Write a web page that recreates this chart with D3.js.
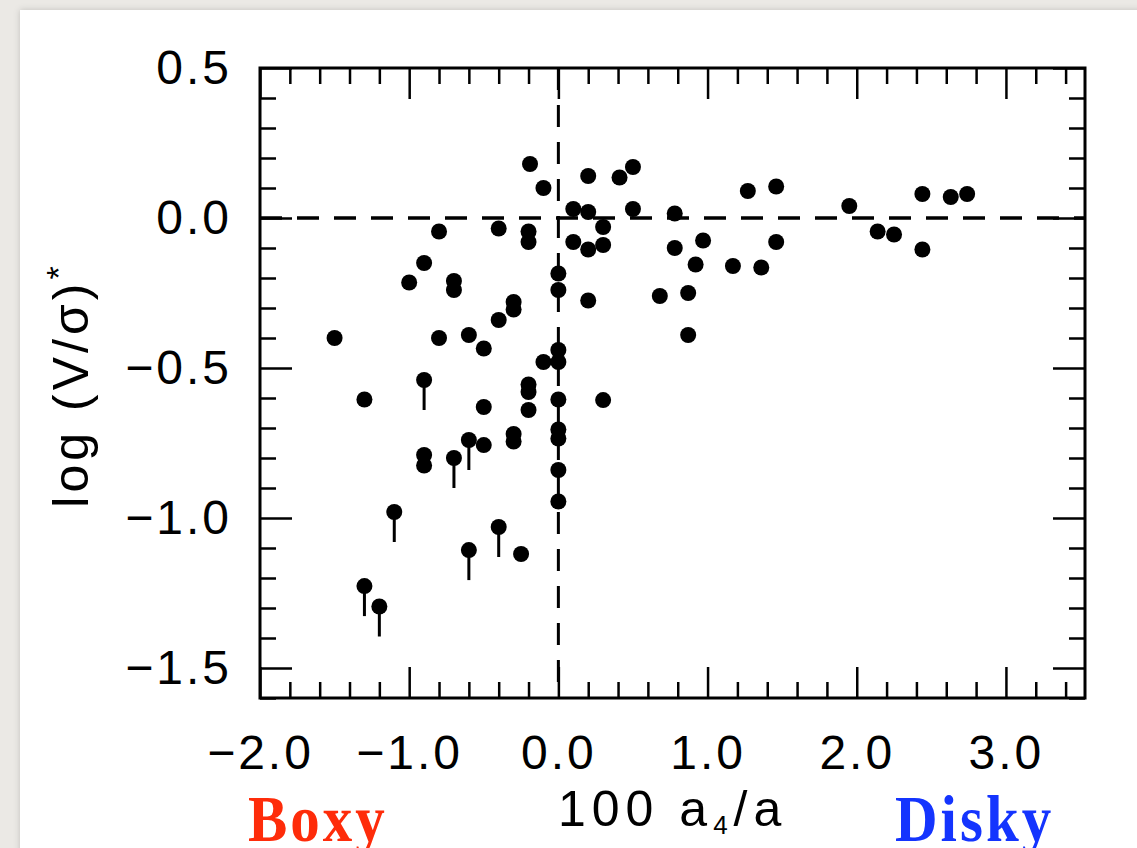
<!DOCTYPE html>
<html>
<head>
<meta charset="utf-8">
<script src="https://cdn.jsdelivr.net/npm/d3@7"></script>
<style>
  body { margin: 0; background: #ebe9e5; }
  svg { display: block; }
  .tick text { font-family: "Liberation Sans", Arial, sans-serif; font-size: 48px; letter-spacing: 3px; fill: #000; }
  .tick line { stroke: #000; stroke-width: 2.5; }
</style>
</head>
<body>
<svg></svg>
<script>
// chart data: 100 a4/a against log(V/sigma)*
const a4 = [
  -0.19, -0.10, 0.20, 0.41, 0.50, 0.10, 0.20, 0.50, 0.78, 0.30,
  -0.80, -0.40, -0.20, -0.20, 0.10, 0.20, 0.30, 0.78, 0.97, 0.92,
  1.17, 1.36, 1.46, 1.27, 1.46, 1.95, 2.14, 2.25, 2.44, 2.44,
  2.63, 2.74, 0.68, 0.87, 0.87, 0.20, -0.90, -1.00, -0.70, -0.70,
  0.00, 0.00, -0.30, -0.30, -0.40, -1.50, -0.80, -0.60, -0.50, -0.10,
  0.00, 0.00, -0.90, -0.20, -0.20, -0.20, 0.00, 0.30, -1.30, -0.50,
  -0.30, -0.30, 0.00, 0.00, -0.60, -0.50, -0.90, -0.90, -0.70, 0.00,
  0.00, -1.10, -0.40, -0.60, -0.25, -1.30, -1.20
];
const logVs = [
  0.18, 0.10, 0.14, 0.135, 0.17, 0.03, 0.02, 0.03, 0.015, -0.03,
  -0.045, -0.035, -0.045, -0.08, -0.08, -0.105, -0.09, -0.10, -0.075, -0.155,
  -0.16, -0.165, -0.08, 0.09, 0.105, 0.04, -0.045, -0.055, 0.08, -0.105,
  0.07, 0.08, -0.26, -0.25, -0.39, -0.275, -0.15, -0.215, -0.21, -0.24,
  -0.185, -0.24, -0.28, -0.305, -0.34, -0.40, -0.40, -0.39, -0.435, -0.48,
  -0.44, -0.48, -0.54, -0.555, -0.58, -0.64, -0.605, -0.607, -0.605, -0.63,
  -0.72, -0.745, -0.705, -0.735, -0.74, -0.757, -0.79, -0.825, -0.80, -0.84,
  -0.945, -0.98, -1.03, -1.107, -1.12, -1.227, -1.295
];
// points drawn with a downward bar (upper limits)
const upperLimit = [52, 64, 68, 71, 72, 73, 75, 76];

const xMajor = [-2, -1, 0, 1, 2, 3];
const xTickLabels = ["\u22122.0", "\u22121.0", "0.0", "1.0", "2.0", "3.0"];
const xMinor = [-1.8, -1.6, -1.4, -1.2, -0.8, -0.6, -0.4, -0.2, 0.2, 0.4, 0.6, 0.8,
  1.2, 1.4, 1.6, 1.8, 2.2, 2.4, 2.6, 2.8, 3.2, 3.4];
const yMajor = [0.5, 0, -0.5, -1.0, -1.5];
const yTickLabels = ["0.5", "0.0", "\u22120.5", "\u22121.0", "\u22121.5"];
const yMinor = [0.4, 0.3, 0.2, 0.1, -0.1, -0.2, -0.3, -0.4, -0.6, -0.7, -0.8, -0.9,
  -1.1, -1.2, -1.3, -1.4, -1.6];

const W = 1137, H = 848;
const margin = { left: 260, right: 1085, top: 68, bottom: 698 };

const x = d3.scaleLinear().domain([-2, 3.53]).range([margin.left, margin.right]);
const y = d3.scaleLinear().domain([-1.6, 0.5]).range([margin.bottom, margin.top]);

const svg = d3.select("svg").attr("width", W).attr("height", H);

// paper background
const defs = svg.append("defs");
const f = defs.append("filter").attr("id", "shadow").attr("x", -0.05).attr("y", -0.05).attr("width", 1.2).attr("height", 1.2);
f.append("feDropShadow").attr("dx", 0).attr("dy", 0).attr("stdDeviation", 3).attr("flood-color", "#000").attr("flood-opacity", 0.18);
svg.append("rect").attr("x", 20).attr("y", 10).attr("width", W).attr("height", H)
  .attr("fill", "#fff").attr("filter", "url(#shadow)");

// axes: major with labels, minor ticks, mirrored on top/right
function axisG(axis, tx, ty) {
  const g = svg.append("g").attr("transform", `translate(${tx},${ty})`).call(axis);
  g.select(".domain").remove();
  return g;
}
axisG(d3.axisBottom(x).tickValues(xMajor).tickSize(-31).tickPadding(37).tickFormat((d, i) => xTickLabels[i]), 0, margin.bottom);
axisG(d3.axisBottom(x).tickValues(xMinor).tickSize(-16).tickFormat(""), 0, margin.bottom);
axisG(d3.axisTop(x).tickValues(xMajor).tickSize(-31).tickFormat(""), 0, margin.top);
axisG(d3.axisTop(x).tickValues(xMinor).tickSize(-16).tickFormat(""), 0, margin.top);
axisG(d3.axisLeft(y).tickValues(yMajor).tickSize(-32).tickPadding(28).tickFormat((d, i) => yTickLabels[i]), margin.left, 0);
axisG(d3.axisLeft(y).tickValues(yMinor).tickSize(-16).tickFormat(""), margin.left, 0);
axisG(d3.axisRight(y).tickValues(yMajor).tickSize(-32).tickFormat(""), margin.right, 0);
axisG(d3.axisRight(y).tickValues(yMinor).tickSize(-16).tickFormat(""), margin.right, 0);

// frame
svg.append("rect")
  .attr("x", margin.left).attr("y", margin.top)
  .attr("width", margin.right - margin.left).attr("height", margin.bottom - margin.top)
  .attr("fill", "none").attr("stroke", "#000").attr("stroke-width", 3);

// zero lines
svg.append("line")
  .attr("x1", margin.left).attr("x2", margin.right).attr("y1", y(0)).attr("y2", y(0))
  .attr("stroke", "#000").attr("stroke-width", 3.5).attr("stroke-dasharray", "22,15");
svg.append("line")
  .attr("x1", x(0)).attr("x2", x(0)).attr("y1", margin.top).attr("y2", margin.bottom)
  .attr("stroke", "#000").attr("stroke-width", 3).attr("stroke-dasharray", "22,15");

const data = a4.map((v, i) => ({ a4: v, lv: logVs[i], lim: upperLimit.includes(i) }));

// limit bars
svg.append("g").selectAll("line")
  .data(data.filter(d => d.lim))
  .join("line")
  .attr("x1", d => x(d.a4)).attr("x2", d => x(d.a4))
  .attr("y1", d => y(d.lv)).attr("y2", d => y(d.lv - 0.1))
  .attr("stroke", "#000").attr("stroke-width", 3);

svg.append("g").selectAll("circle")
  .data(data)
  .join("circle")
  .attr("cx", d => x(d.a4)).attr("cy", d => y(d.lv))
  .attr("r", 8).attr("fill", "#000");

// axis titles
svg.append("text")
  .attr("transform", "translate(88,385) rotate(-90)")
  .attr("text-anchor", "middle")
  .style("font-family", "Liberation Sans, Arial, sans-serif")
  .style("font-size", "50px").style("letter-spacing", "4px")
  .text("log (V/\u03c3)")
  .append("tspan").attr("dy", -18).style("font-size", "34px").text("*");

const xt = svg.append("text")
  .attr("x", 558).attr("y", 826)
  .style("font-family", "Liberation Sans, Arial, sans-serif")
  .style("font-size", "50px").style("letter-spacing", "6px");
xt.append("tspan").text("100 a");
xt.append("tspan").attr("dy", 8).style("font-size", "26px").text("4");
xt.append("tspan").attr("dy", -8).text("/a");

// Boxy / Disky labels (tall serif)
svg.append("text")
  .attr("transform", "translate(248,841) scale(1,1.12)")
  .style("font-family", "Liberation Serif, serif").style("font-weight", "bold")
  .style("font-size", "59px").style("letter-spacing", "3px")
  .attr("fill", "#fe2c0a").text("Boxy");
svg.append("text")
  .attr("transform", "translate(895,841) scale(1,1.12)")
  .style("font-family", "Liberation Serif, serif").style("font-weight", "bold")
  .style("font-size", "59px").style("letter-spacing", "3px")
  .attr("fill", "#1434fe").text("Disky");
</script>
</body>
</html>
